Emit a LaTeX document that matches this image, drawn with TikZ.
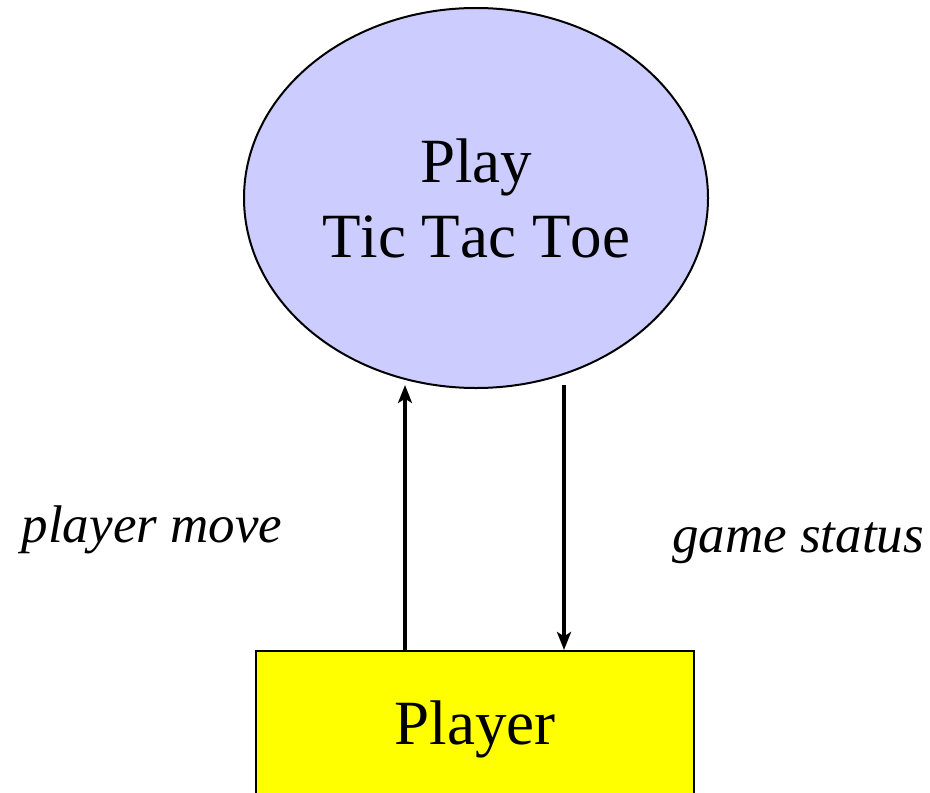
\documentclass[tikz,border=0pt]{standalone}
\usepackage{fontspec}
\setmainfont{Liberation Serif}[Kerning=Off]
\usetikzlibrary{arrows.meta}
\usetikzlibrary{shapes.geometric}
\definecolor{procblue}{RGB}{204,204,255}
\definecolor{actoryellow}{RGB}{255,255,0}

\tikzset{
  process/.style={ellipse,draw,line width=1pt,fill=procblue,inner sep=0pt,
    minimum width=232pt,minimum height=190pt,align=center,
    font=\fontsize{31.5}{37.5}\selectfont},
  actor/.style={rectangle,draw,line width=1pt,fill=actoryellow,inner sep=0pt,
    minimum width=219pt,minimum height=78pt,
    font=\fontsize{31.5}{37.5}\selectfont},
  flow/.style={line width=2.3pt,-{Stealth[length=9pt,width=7pt,inset=2.2pt]}},
  flowlabel/.style={font=\fontsize{26.5}{30}\selectfont\itshape}
}

\begin{document}
\begin{tikzpicture}[x=0.5pt,y=-0.5pt]
\useasboundingbox (0,0) rectangle (930,792);
\node[process] (game) at (476,198) {Play\\Tic Tac Toe};
\node[actor] (player) at (475,729) {Player};
% data flows between the player and the game
\draw[flow] ([xshift=-35pt]player.north) -- ([xshift=-35pt,yshift=2pt]player.north |- game.south);
\draw[flow] ([xshift=44.5pt,yshift=2pt]player.north |- game.south) -- ([xshift=44.5pt]player.north);
\node[flowlabel] (move) at (152,530) {player move};
\node[flowlabel] (status) at (798,543) {game status};
\end{tikzpicture}
\end{document}
